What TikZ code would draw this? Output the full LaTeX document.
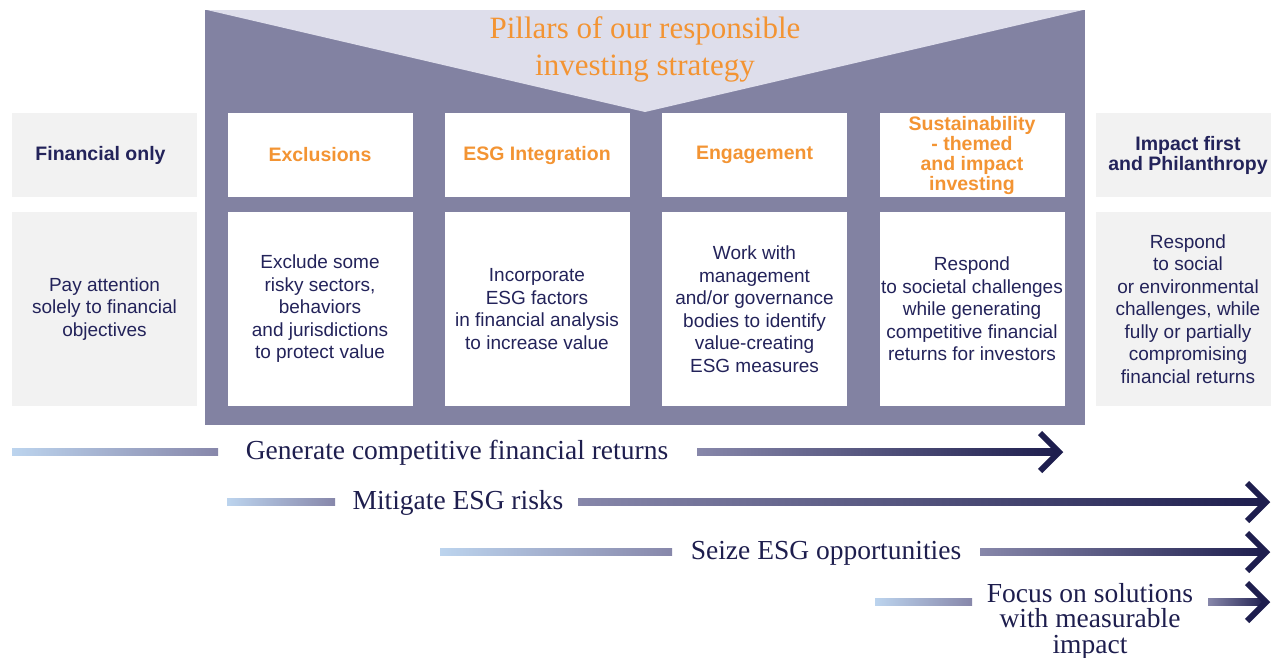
\documentclass[tikz,border=0pt]{standalone}
\usepackage{fontspec}
\setmainfont{Liberation Serif}
\setsansfont{Liberation Sans}
\usetikzlibrary{calc}

\definecolor{pillar}{HTML}{8282A2}
\definecolor{wedge}{HTML}{DEDEEB}
\definecolor{accent}{HTML}{F39433}
\definecolor{ink}{HTML}{23235A}
\definecolor{panel}{HTML}{F2F2F2}
\definecolor{barlight}{HTML}{BCD4EE}
\definecolor{barmid}{HTML}{8787AA}
\definecolor{barend}{HTML}{1E1E4E}

\tikzset{
  card/.style={fill=white, inner sep=0pt, minimum width=185pt, align=center},
  side/.style={fill=panel, inner sep=0pt, minimum width=185pt, align=center},
  headrow/.style={minimum height=84pt,
    font=\sffamily\bfseries\fontsize{19.5}{20}\selectfont},
  bodyrow/.style={minimum height=194pt, text=ink,
    font=\sffamily\fontsize{19}{22.5}\selectfont},
  goal/.style={text=barend, inner sep=0pt, align=center,
    font=\rmfamily\fontsize{27.5}{25.5}\selectfont},
  tailbar/.style={left color=barlight, right color=barmid},
  headbar/.style={left color=barmid, right color=barend},
  chevron/.style={draw=barend, line width=6pt, miter limit=10}
}

% horizontal goal bar: tail segment, head segment and open chevron
\newcommand{\goalbar}[4]{%
  \shade[tailbar] ($(#1)+(0,-3.5)$) rectangle ($(#2)+(0,3.5)$);
  \shade[headbar] ($(#3)+(0,-3.5)$) rectangle ($(#4)+(0,3.5)$);
  \draw[chevron] ($(#4)+(-19,-19)$) -- (#4) -- ($(#4)+(-19,19)$);
}

\begin{document}
\begin{tikzpicture}[x=1pt, y=-1pt]
\useasboundingbox (0,0) rectangle (1271,657);

% pillar frame with the title wedge
\fill[pillar] (205,10) rectangle (1085,425);
\fill[wedge] (207,10) -- (1083,10) -- (645,112) -- cycle;
\node[text=accent, align=center, anchor=base,
  font=\rmfamily\fontsize{31}{37}\selectfont] (title) at (645,75)
  {Pillars of our responsible\\investing strategy};

% left column
\node[side, headrow, text=ink] (finH) at (104.5,155) {\hspace*{-8pt}Financial only};
\node[side, bodyrow] (finB) at (104.5,309)
  {Pay attention\\solely to financial\\objectives};

% four pillars
\node[card, headrow, text=accent] (exH) at (320,155) {Exclusions};
\node[card, bodyrow] (exB) at (320,309)
  {Exclude some\\risky sectors,\\behaviors\\and jurisdictions\\to protect value};

\node[card, headrow, text=accent] (esgH) at (537,155) {ESG Integration};
\node[card, bodyrow] (esgB) at (537,309)
  {Incorporate\\ESG factors\\in financial analysis\\to increase value};

\node[card, headrow, text=accent] (enH) at (754.5,155) {Engagement};
\node[card, bodyrow] (enB) at (754.5,309)
  {Work with\\management\\and/or governance\\bodies to identify\\value-creating\\ESG measures};

\node[card, headrow, text=accent] (stH) at (972,155)
  {Sustainability\\- themed\\and impact\\investing};
\node[card, bodyrow] (stB) at (972,309)
  {Respond\\to societal challenges\\while generating\\competitive financial\\returns for investors};

% right column
\node[side, headrow, text=ink, minimum width=184pt] (imH) at (1188,155)
  {Impact first\\and Philanthropy};
\node[side, bodyrow, minimum width=184pt] (imB) at (1188,309)
  {Respond\\to social\\or environmental\\challenges, while\\fully or partially\\compromising\\financial returns};

% goal bars
\coordinate (g1a) at (12,452);   \coordinate (g1b) at (218,452);
\coordinate (g1c) at (697,452);  \coordinate (g1d) at (1059,452);
\goalbar{g1a}{g1b}{g1c}{g1d}
\node[goal, anchor=base] (g1) at (457,459) {Generate competitive financial returns};

\coordinate (g2a) at (227,502);  \coordinate (g2b) at (335,502);
\coordinate (g2c) at (578,502);  \coordinate (g2d) at (1266,502);
\goalbar{g2a}{g2b}{g2c}{g2d}
\node[goal, anchor=base] (g2) at (458,509) {Mitigate ESG risks};

\coordinate (g3a) at (440,552);  \coordinate (g3b) at (672,552);
\coordinate (g3c) at (980,552);  \coordinate (g3d) at (1266,552);
\goalbar{g3a}{g3b}{g3c}{g3d}
\node[goal, anchor=base] (g3) at (826,559) {Seize ESG opportunities};

\coordinate (g4a) at (875,602);  \coordinate (g4b) at (972,602);
\coordinate (g4c) at (1208,602); \coordinate (g4d) at (1266,602);
\goalbar{g4a}{g4b}{g4c}{g4d}
\node[goal, anchor=base] (g4) at (1090,653)
  {Focus on solutions\\with measurable\\impact};
\end{tikzpicture}
\end{document}
